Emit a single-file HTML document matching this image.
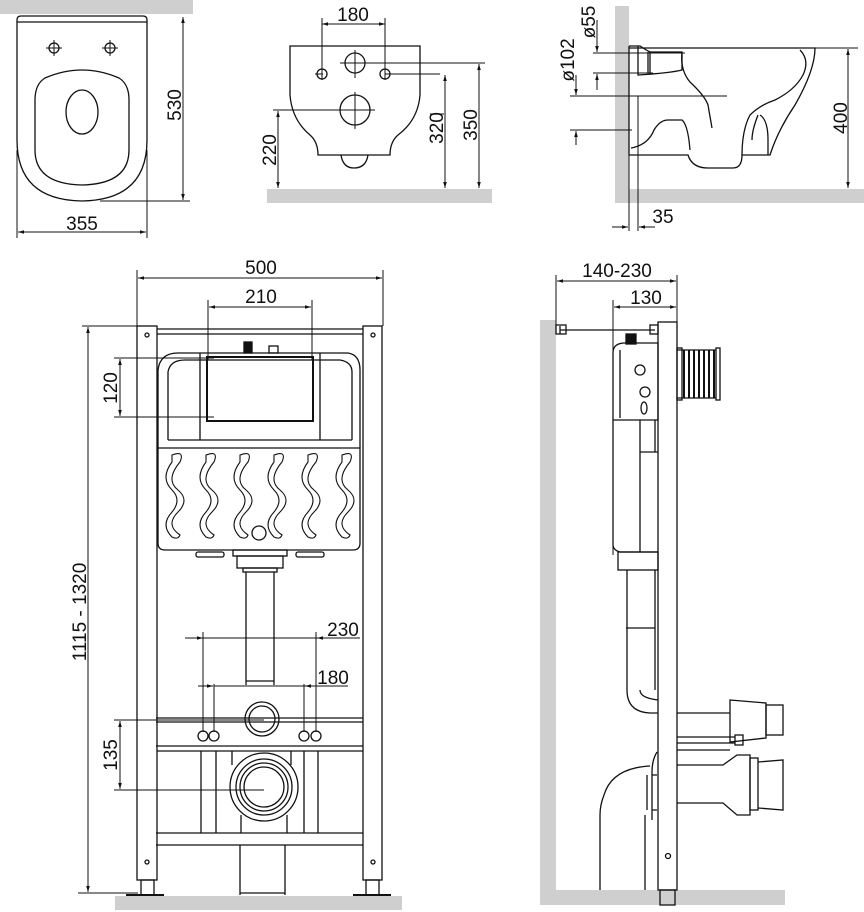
<!DOCTYPE html>
<html><head><meta charset="utf-8"><style>
html,body{margin:0;padding:0;background:#fff}
svg{display:block}
text{font-family:"Liberation Sans",sans-serif;font-size:19px;fill:#111}
</style></head><body>
<svg width="864" height="912" viewBox="0 0 864 912" xmlns="http://www.w3.org/2000/svg">
<defs>
<marker id="a" viewBox="0 0 10 10" refX="10" refY="5" markerWidth="9" markerHeight="6" orient="auto-start-reverse"><path d="M0,2 L10,5 L0,8 z" fill="#111"/></marker>
</defs>
<g fill="#cfcfcf" stroke="none">
<rect x="0" y="0" width="193" height="14"/>
<rect x="267" y="189" width="225" height="14"/>
<rect x="615" y="6" width="14" height="197"/>
<rect x="615" y="189" width="249" height="14"/>
<rect x="115" y="896" width="287" height="14"/>
<rect x="540" y="320" width="16" height="585"/>
<rect x="540" y="890" width="245" height="15"/>
</g>
<g fill="none" stroke="#111" stroke-width="1.3">
<path d="M17,20 Q17,16 21,16 L143,16 Q147,16 147,20 L147,140 Q147,200 82,201 Q17,200 17,140 Z"/>
<line x1="17" y1="22" x2="147" y2="22"/>
<path d="M45,78 Q82,62 119,78 Q129,84 129,100 L129,150 Q129,184 82,185 Q35,184 35,150 L35,100 Q35,84 45,78 Z"/>
<ellipse cx="82" cy="112" rx="16" ry="22"/>
<circle cx="54" cy="48" r="5"/><circle cx="110" cy="48" r="5"/>
<path d="M46,48h16M54,40v16M102,48h16M110,40v16" stroke-width="1"/>
<path d="M290,46 L420,46 L420,95 Q418,120 398,135 Q390,142 390,155 L318,155 Q318,142 310,135 Q292,120 290,95 Z"/>
<path d="M341,155 Q343,168 354,168 Q366,168 368,155"/>
<circle cx="355" cy="63" r="10"/><circle cx="322" cy="74" r="5"/><circle cx="385" cy="74" r="5"/>
<circle cx="355" cy="110" r="15"/>
<g stroke-width="1">
<path d="M340,63h145M355,50v28M315,74h8M322,68v12M385,74h55M385,68v12M273,110h102M355,92v37"/>
<path d="M322,18v56M385,18v56"/>
<line x1="322" y1="24" x2="385" y2="24" marker-start="url(#a)" marker-end="url(#a)"/>
<line x1="278" y1="111" x2="278" y2="188" marker-start="url(#a)" marker-end="url(#a)"/>
<line x1="445" y1="75" x2="445" y2="188" marker-start="url(#a)" marker-end="url(#a)"/>
<line x1="479" y1="64" x2="479" y2="188" marker-start="url(#a)" marker-end="url(#a)"/>
<path d="M430,114h14"/>
<path d="M100,201h90"/>
<line x1="183" y1="17" x2="183" y2="200" marker-start="url(#a)" marker-end="url(#a)"/>
<path d="M17,150v88M147,150v88"/>
<line x1="18" y1="232" x2="146" y2="232" marker-start="url(#a)" marker-end="url(#a)"/>
</g>
<path d="M629,46 L640,46 Q646,50 650,52 L682,52 L682,70 Q670,73 638,75 L638,46"/>
<path d="M648,52 L648,73 M650,52 L650,73"/>
<path d="M629,46 L629,155 L688,155 Q692,168 708,168 L733,168 Q742,168 742,155 L770,155 Q778,130 795,105 Q815,70 815,48 L629,48"/>
<path d="M800,50 Q810,60 803,75 Q795,90 775,100 Q760,105 750,115 Q742,130 742,155"/>
<path d="M682,52 Q680,70 690,82 Q705,96 708,105 L712,128"/>
<path d="M631,148 Q648,145 654,130 Q660,120 668,120 L682,120 Q688,125 690,150"/>
<path d="M760,115 Q768,120 768,140 L768,155 M758,115 Q752,130 752,140"/>
<g stroke-width="1">
<path d="M593,53h92M593,73h60M570,96h157M570,130h62"/>
<path d="M629,155v76M638,96v135"/>
<line x1="597" y1="20" x2="597" y2="52" marker-end="url(#a)"/>
<line x1="597" y1="90" x2="597" y2="74" marker-end="url(#a)"/>
<line x1="576" y1="75" x2="576" y2="95" marker-end="url(#a)"/>
<line x1="576" y1="145" x2="576" y2="131" marker-end="url(#a)"/>
<path d="M815,48h43"/>
<line x1="848" y1="49" x2="848" y2="188" marker-start="url(#a)" marker-end="url(#a)"/>
<line x1="612" y1="227" x2="628" y2="227" marker-end="url(#a)"/>
<line x1="655" y1="227" x2="639" y2="227" marker-end="url(#a)"/>
</g>
<g stroke-width="1">
<path d="M137,270v56M383,270v56M208,300v60M312,300v60"/>
<line x1="138" y1="278" x2="382" y2="278" marker-start="url(#a)" marker-end="url(#a)"/>
<line x1="209" y1="307" x2="311" y2="307" marker-start="url(#a)" marker-end="url(#a)"/>
<path d="M82,326h60M78,893h60"/>
<line x1="88" y1="327" x2="88" y2="892" marker-start="url(#a)" marker-end="url(#a)"/>
<path d="M114,358h100M114,417h100"/>
<line x1="120" y1="359" x2="120" y2="416" marker-start="url(#a)" marker-end="url(#a)"/>
<path d="M114,720h150M114,790h150"/>
<line x1="120" y1="721" x2="120" y2="789" marker-start="url(#a)" marker-end="url(#a)"/>
<path d="M203,632v100M316,632v100M214,684v48M304,684v48"/>
<line x1="185" y1="638" x2="203" y2="638" marker-end="url(#a)"/>
<line x1="203" y1="638" x2="360" y2="638"/>
<line x1="335" y1="638" x2="317" y2="638" marker-end="url(#a)"/>
<line x1="198" y1="686" x2="213" y2="686" marker-end="url(#a)"/>
<line x1="214" y1="686" x2="348" y2="686"/>
<line x1="320" y1="686" x2="305" y2="686" marker-end="url(#a)"/>
</g>
<rect x="137" y="326" width="20" height="554"/>
<rect x="363" y="326" width="19" height="554"/>
<path d="M157,329h206M157,334h206"/>
<rect x="141" y="880" width="13" height="15"/><rect x="366" y="880" width="13" height="15"/>
<path d="M126,895h38M353,895h38" stroke-width="2"/>
<circle cx="147" cy="335" r="2"/><circle cx="373" cy="335" r="2"/><circle cx="147" cy="862" r="2"/><circle cx="373" cy="862" r="2"/>
<path d="M158,448 L158,370 Q160,353 178,353 L348,353 Q360,355 360,370 L360,448"/>
<path d="M168,440 L168,372 Q170,360 185,360 L340,360 Q352,362 352,372 L352,440"/>
<rect x="207" y="357" width="106" height="64" stroke-width="2"/>
<path d="M200,353 L200,440 M320,353 L320,440 M168,440 H352"/>
<rect x="244" y="342" width="8" height="11" fill="#111"/><rect x="269" y="346" width="9" height="7"/>
<path d="M158,448 L360,448 L360,543 Q360,550 353,550 L165,550 Q158,550 158,543 Z"/>
<g stroke-width="1.1">
<path d="M172,455 Q185,450 180,462 Q165,480 178,490 Q190,500 178,512 Q165,525 180,535 Q178,540 172,537 Q160,525 172,512 Q182,500 172,490 Q160,478 172,462Z"/>
<path d="M206,455 Q219,450 214,462 Q199,480 212,490 Q224,500 212,512 Q199,525 214,535 Q212,540 206,537 Q194,525 206,512 Q216,500 206,490 Q194,478 206,462Z"/>
<path d="M240,455 Q253,450 248,462 Q233,480 246,490 Q258,500 246,512 Q233,525 248,535 Q246,540 240,537 Q228,525 240,512 Q250,500 240,490 Q228,478 240,462Z"/>
<path d="M274,455 Q287,450 282,462 Q267,480 280,490 Q292,500 280,512 Q267,525 282,535 Q280,540 274,537 Q262,525 274,512 Q284,500 274,490 Q262,478 274,462Z"/>
<path d="M308,455 Q321,450 316,462 Q301,480 314,490 Q326,500 314,512 Q301,525 316,535 Q314,540 308,537 Q296,525 308,512 Q318,500 308,490 Q296,478 308,462Z"/>
<path d="M342,455 Q355,450 350,462 Q335,480 348,490 Q360,500 348,512 Q335,525 350,535 Q348,540 342,537 Q330,525 342,512 Q352,500 342,490 Q330,478 342,462Z"/>
</g>
<circle cx="259" cy="533" r="7"/>
<rect x="196" y="552" width="28" height="5" rx="2"/><rect x="296" y="552" width="28" height="5" rx="2"/>
<rect x="233" y="550" width="54" height="6"/><rect x="237" y="556" width="46" height="12"/><rect x="243" y="568" width="34" height="4"/>
<path d="M246,572 V685 M274,572 V685 M246,681 H274"/>
<path d="M156,718 H363 M156,722 H363 M156,746 H363"/>
<circle cx="262" cy="719" r="17"/><circle cx="262" cy="719" r="13"/>
<circle cx="203" cy="736" r="5"/><circle cx="214" cy="736" r="5"/><circle cx="304" cy="736" r="5"/><circle cx="316" cy="736" r="5"/>
<path d="M157,751 H363 M201,751 V833 M216,751 V833 M304,751 V833 M318,751 V833 M232,751 V765 M291,751 V765"/>
<circle cx="264" cy="787" r="34"/><circle cx="264" cy="787" r="28"/><circle cx="264" cy="787" r="24"/><circle cx="264" cy="787" r="20"/>
<path d="M241,815 V833 M287,815 V833"/>
<path d="M156,833 H363 M156,845 H363"/>
<path d="M240,845 V895 M285,845 V895 M240,893 H285"/>
<g stroke-width="1">
<path d="M556,275v50M677,275v50M613,300v255"/>
<line x1="557" y1="281" x2="676" y2="281" marker-start="url(#a)" marker-end="url(#a)"/>
<line x1="614" y1="307" x2="676" y2="307" marker-start="url(#a)" marker-end="url(#a)"/>
</g>
<rect x="658" y="322" width="19" height="568"/>
<rect x="660" y="890" width="15" height="15"/>
<circle cx="668" cy="856" r="2.5"/>
<path d="M560,326 V334 M560,330 H655" />
<rect x="556" y="325" width="10" height="9"/><rect x="650" y="325" width="8" height="9"/>
<rect x="626" y="334" width="10" height="10" fill="#111"/>
<path d="M613,353 Q613,343 625,343 L658,343 L658,420 L613,420 Z"/>
<path d="M620,350 V418"/>
<circle cx="640" cy="370" r="5"/><circle cx="645" cy="392" r="5"/><ellipse cx="644" cy="408" rx="3" ry="6"/>
<path d="M613,420 V545 Q613,550 620,552 L658,552 M640,420 V552 M640,452 H658 M655,420 V452"/>
<rect x="618" y="552" width="40" height="18"/>
<path d="M627,570 V690 M655,570 V690 M626,628 H655"/>
<path d="M627,690 Q627,712 650,713 L658,713 M640,690 Q640,698 658,700"/>
<rect x="677" y="348" width="5" height="52"/>
<g stroke-width="2"><path d="M684,350 V398 M689,350 V398 M694,350 V398 M699,350 V398 M704,350 V398 M709,350 V398 M714,350 V398"/></g>
<rect x="716" y="348" width="4" height="52"/>
<path d="M677,350 H716 M677,398 H716"/>
<path d="M677,713 H730 M677,750 H730"/>
<path d="M730,700 L766,703 L766,738 L730,742 Z"/>
<rect x="766" y="705" width="17" height="30"/>
<path d="M677,737 H735 M677,743 H735"/><rect x="735" y="735" width="8" height="10"/>
<path d="M677,765 H723 L737,755 L750,755 L750,815 L737,815 L723,803 L677,803"/>
<rect x="750" y="758" width="8" height="52"/>
<path d="M758,762 L783,760 L783,810 L758,808"/>
<path d="M657,752 Q652,760 652,772 L652,820 M647,775 V810 M652,775 H657 M652,810 H657"/>
<path d="M650,766 Q612,768 604,795 Q600,805 600,815 V890 M645,815 V890"/>
</g>
<g>
<text x="82" y="230" text-anchor="middle">355</text>
<text transform="translate(181,105) rotate(-90)" text-anchor="middle">530</text>
<text x="353" y="21" text-anchor="middle">180</text>
<text transform="translate(276,150) rotate(-90)" text-anchor="middle">220</text>
<text transform="translate(443,128) rotate(-90)" text-anchor="middle">320</text>
<text transform="translate(477,125) rotate(-90)" text-anchor="middle">350</text>
<text transform="translate(595,22) rotate(-90)" text-anchor="middle">ø55</text>
<text transform="translate(574,60) rotate(-90)" text-anchor="middle">ø102</text>
<text transform="translate(847,118) rotate(-90)" text-anchor="middle">400</text>
<text x="663" y="223" text-anchor="middle">35</text>
<text x="261" y="274" text-anchor="middle">500</text>
<text x="261" y="303" text-anchor="middle">210</text>
<text transform="translate(86,612) rotate(-90)" text-anchor="middle">1115 - 1320</text>
<text transform="translate(117,388) rotate(-90)" text-anchor="middle">120</text>
<text transform="translate(117,755) rotate(-90)" text-anchor="middle">135</text>
<text x="343" y="636" text-anchor="middle">230</text>
<text x="333" y="684" text-anchor="middle">180</text>
<text x="617" y="277" text-anchor="middle">140-230</text>
<text x="646" y="304" text-anchor="middle">130</text>
</g>
</svg>
</body></html>
